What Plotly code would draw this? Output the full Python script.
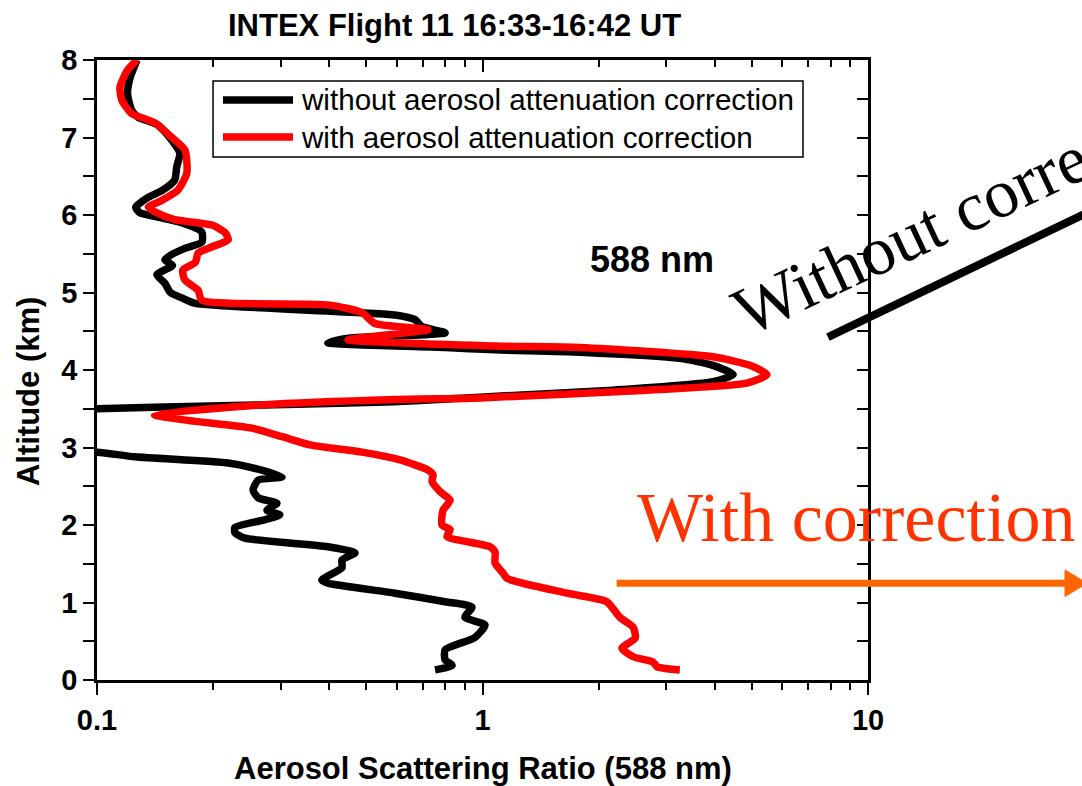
import plotly.graph_objects as go

# ---------------- data ----------------
black_alt = [8.0, 7.78, 7.57, 7.35, 7.26, 7.16, 6.97, 6.80, 6.62, 6.45, 6.32, 6.23, 6.10, 6.03,
             5.96, 5.90, 5.78, 5.65, 5.57, 5.48, 5.42, 5.35, 5.23, 5.12, 5.00, 4.93, 4.86,
             4.71, 4.65, 4.56, 4.48, 4.41, 4.35, 4.29, 4.26, 4.23, 4.15, 4.06, 3.94, 3.85,
             3.74, 3.65, 3.59, 3.55, 3.52, 3.50, 3.47, 2.96, 2.94, 2.88, 2.80, 2.74, 2.62,
             2.58, 2.45, 2.35, 2.28, 2.19, 2.13, 2.06, 1.97, 1.90, 1.83, 1.72, 1.64, 1.55,
             1.45, 1.29, 1.25, 1.12, 1.01, 0.94, 0.81, 0.71, 0.55, 0.39, 0.26, 0.19, 0.13]
black_ratio = [0.127, 0.122, 0.120, 0.123, 0.128, 0.144, 0.156, 0.164, 0.161, 0.159, 0.148, 0.136,
               0.126, 0.129, 0.148, 0.166, 0.187, 0.187, 0.169, 0.155, 0.150, 0.157, 0.143, 0.150,
               0.155, 0.166, 0.180, 0.593, 0.668, 0.697, 0.80, 0.45, 0.397, 0.80, 1.08, 1.79,
               3.25, 3.96, 4.47, 3.96, 2.18, 0.985, 0.593, 0.27, 0.14, 0.10, 0.07, 0.07, 0.100,
               0.1255, 0.219, 0.252, 0.302, 0.262, 0.254, 0.262, 0.293, 0.276, 0.298, 0.268,
               0.228, 0.228, 0.242, 0.397, 0.467, 0.432, 0.432, 0.383, 0.397, 0.593, 0.80,
               0.939, 0.90, 1.015, 0.956, 0.80, 0.80, 0.834, 0.753]

red_alt = [8.0, 7.87, 7.65, 7.48, 7.31, 7.19, 7.00, 6.84, 6.54, 6.32, 6.19, 6.10, 6.02, 5.94,
           5.87, 5.77, 5.68, 5.59, 5.51, 5.39, 5.29, 5.16, 5.03, 4.90, 4.84, 4.74, 4.60, 4.52,
           4.39, 4.31, 4.29, 4.17, 4.06, 3.94, 3.83, 3.74, 3.64, 3.62, 3.55, 3.42, 3.35, 3.25,
           3.14, 3.03, 2.94, 2.84, 2.71, 2.65, 2.56, 2.43, 2.32, 2.19, 2.00, 1.94, 1.85, 1.72,
           1.65, 1.51, 1.38, 1.31, 1.12, 1.01, 0.81, 0.68, 0.54, 0.41, 0.30, 0.23, 0.17, 0.13]
red_ratio = [0.127, 0.120, 0.1147, 0.116, 0.123, 0.141, 0.1565, 0.169, 0.171, 0.162, 0.1475, 0.136,
             0.144, 0.159, 0.199, 0.215, 0.219, 0.199, 0.183, 0.180, 0.167, 0.169, 0.183, 0.187,
             0.397, 0.487, 0.526, 0.722, 0.448, 1.08, 1.79, 3.96, 4.94, 5.47, 4.85, 2.67, 0.985,
             0.593, 0.268, 0.141, 0.172, 0.252, 0.302, 0.36, 0.487, 0.611, 0.722, 0.744, 0.74,
             0.776, 0.824, 0.79, 0.785, 0.824, 0.809, 1.046, 1.078, 1.078, 1.13, 1.158, 1.657,
             2.10, 2.27, 2.46, 2.49, 2.30, 2.46, 2.77, 2.84, 3.25]

x_major = [0.1, 1, 10]
x_major_text = ["0.1", "1", "10"]
x_minor = [0.2, 0.3, 0.4, 0.5, 0.6, 0.7, 0.8, 0.9, 2, 3, 4, 5, 6, 7, 8, 9]
y_ticks = [i * 0.5 for i in range(17)]
y_text = [str(int(v)) if v == int(v) else "" for v in y_ticks]

title_text = "INTEX Flight 11 16:33-16:42 UT"
x_title = "Aerosol Scattering Ratio (588 nm)"
y_title = "Altitude (km)"
legend_labels = ["without aerosol attenuation correction", "with aerosol attenuation correction"]

SANS = "Liberation Sans, Arial, sans-serif"
SERIF = "Liberation Serif, Times New Roman, serif"

fig = go.Figure()
fig.add_trace(go.Scatter(x=black_ratio, y=black_alt, mode="lines",
                         line=dict(color="black", width=7.5, shape="spline", smoothing=0.6),
                         showlegend=False, hoverinfo="skip"))
fig.add_trace(go.Scatter(x=red_ratio, y=red_alt, mode="lines",
                         line=dict(color="#FF0000", width=7.5, shape="spline", smoothing=0.6),
                         showlegend=False, hoverinfo="skip"))
fig.add_trace(go.Scatter(x=[], y=[], xaxis="x2", yaxis="y2", showlegend=False, hoverinfo="skip"))

axis_common = dict(showgrid=False, zeroline=False, showline=True, linecolor="black",
                   linewidth=2.5, tickcolor="black", tickwidth=2)

fig.update_layout(
    width=1082, height=786,
    margin=dict(l=97, r=214, t=60, b=106),
    paper_bgcolor="white", plot_bgcolor="white",
    showlegend=False,
    xaxis=dict(type="log", range=[-1, 1], ticks="outside", ticklen=12,
               tickmode="array", tickvals=x_major, ticktext=x_major_text,
               tickfont=dict(family=SANS, size=29, color="black", weight="bold"),
               minor=dict(tickmode="array", tickvals=x_minor, ticks="outside",
                          ticklen=7, tickwidth=2, tickcolor="black"),
               **axis_common),
    yaxis=dict(range=[0, 8], ticks="outside", ticklen=11,
               tickmode="array", tickvals=y_ticks, ticktext=y_text,
               tickfont=dict(family=SANS, size=29, color="black", weight="bold"),
               **axis_common),
    xaxis2=dict(type="log", range=[-1, 1], overlaying="x", side="top", anchor="y",
                ticks="inside", ticklen=12, tickmode="array", tickvals=x_major,
                showticklabels=False,
                minor=dict(tickmode="array", tickvals=x_minor, ticks="inside",
                           ticklen=7, tickwidth=2, tickcolor="black"),
                **axis_common),
    yaxis2=dict(range=[0, 8], overlaying="y", side="right", anchor="x",
                ticks="inside", ticklen=11, tickmode="array", tickvals=y_ticks,
                showticklabels=False, **axis_common),
)

ann = []
ann.append(dict(text=title_text, x=0.4643, y=1.056, xref="paper", yref="paper",
                showarrow=False, xanchor="center", yanchor="middle",
                font=dict(family=SANS, size=31, color="black", weight="bold")))
ann.append(dict(text=x_title, x=0.5006, y=-0.142, xref="paper", yref="paper",
                showarrow=False, xanchor="center", yanchor="middle",
                font=dict(family=SANS, size=31, color="black", weight="bold")))
ann.append(dict(text=y_title, x=-0.0895, y=0.466, xref="paper", yref="paper",
                showarrow=False, xanchor="center", yanchor="middle", textangle=-90,
                font=dict(family=SANS, size=31, color="black", weight="bold")))
ann.append(dict(text="588 nm", x=0.72, y=0.679, xref="paper", yref="paper",
                showarrow=False, xanchor="center", yanchor="middle",
                font=dict(family=SANS, size=36, color="black", weight="bold")))
ann.append(dict(text="Without correction", x=1.136, y=0.765, xref="paper", yref="paper",
                showarrow=False, xanchor="center", yanchor="middle", textangle=-25,
                font=dict(family=SERIF, size=69, color="black")))
ann.append(dict(text="With correction", x=0.985, y=0.262, xref="paper", yref="paper",
                showarrow=False, xanchor="center", yanchor="middle",
                font=dict(family=SERIF, size=70, color="#FF3300")))
# legend texts
leg_y = [0.9355, 0.8758]
for lab, yy in zip(legend_labels, leg_y):
    ann.append(dict(text=lab, x=0.2620, y=yy, xref="paper", yref="paper",
                    showarrow=False, xanchor="left", yanchor="middle",
                    font=dict(family=SANS, size=29.6, color="black")))
fig.update_layout(annotations=ann)

shapes = []
# legend box
shapes.append(dict(type="rect", xref="paper", yref="paper", x0=0.1505, x1=0.9157,
                   y0=0.8435, y1=0.966, line=dict(color="black", width=1.5),
                   fillcolor="white", layer="below"))
for col, yy in zip(["black", "#FF0000"], leg_y):
    shapes.append(dict(type="line", xref="paper", yref="paper", x0=0.1634, x1=0.2542,
                       y0=yy, y1=yy, line=dict(color=col, width=7.5)))
# black slanted bar under "Without correction"
shapes.append(dict(type="line", xref="paper", yref="paper", x0=0.948, y0=0.553,
                   x1=1.30, y1=0.763, line=dict(color="black", width=8)))
# orange arrow
shapes.append(dict(type="line", xref="paper", yref="paper", x0=0.674, y0=0.156,
                   x1=1.258, y1=0.156, line=dict(color="#FF6600", width=7)))
shapes.append(dict(type="path", xref="paper", yref="paper",
                   path="M 1.2555,0.1775 L 1.2840,0.156 L 1.2555,0.1345 Z",
                   fillcolor="#FF6600", line=dict(color="#FF6600", width=1)))
fig.update_layout(shapes=shapes)

fig.write_html("out.html")
